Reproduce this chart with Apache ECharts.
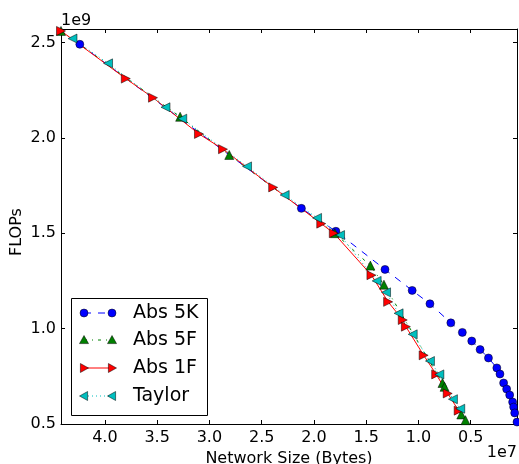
<!DOCTYPE html>
<html>
<head>
<meta charset="utf-8">
<script src="https://cdn.jsdelivr.net/npm/echarts@6/dist/echarts.min.js"></script>
<style>html,body{margin:0;padding:0;background:#fff}#c{width:519px;height:464px}</style>
</head>
<body>
<div id="c"></div>
<script>
// Network size in units of 1e7 bytes, FLOPs in units of 1e9
const xTicks = [0.5, 1.0, 1.5, 2.0, 2.5, 3.0, 3.5, 4.0];
const yTicks = [0.5, 1.0, 1.5, 2.0, 2.5];

const abs5kX = [4.24, 2.12, 1.79, 1.32, 1.06, 0.89, 0.69, 0.58, 0.49, 0.41, 0.33, 0.25, 0.22, 0.185, 0.156, 0.127, 0.099, 0.089, 0.079, 0.057];
const abs5kY = [2.49, 1.63, 1.51, 1.31, 1.20, 1.13, 1.03, 0.98, 0.935, 0.89, 0.846, 0.794, 0.762, 0.715, 0.683, 0.652, 0.615, 0.589, 0.558, 0.51];

const abs5fX = [4.42, 3.28, 2.81, 1.80, 1.46, 1.33, 0.77, 0.75, 0.59, 0.55];
const abs5fY = [2.56, 2.11, 1.91, 1.50, 1.33, 1.23, 0.715, 0.695, 0.55, 0.52];

const abs1fX = [4.42, 3.80, 3.54, 3.10, 2.87, 2.39, 1.93, 1.81, 1.45, 1.29, 1.15, 1.12, 0.95, 0.83, 0.72, 0.615];
const abs1fY = [2.56, 2.31, 2.21, 2.02, 1.94, 1.74, 1.55, 1.50, 1.28, 1.14, 1.045, 1.01, 0.86, 0.76, 0.66, 0.57];

const taylorX = [4.31, 3.97, 3.42, 3.26, 2.64, 2.28, 1.97, 1.75, 1.40, 1.31, 1.19, 1.055, 0.89, 0.80, 0.67, 0.60];
const taylorY = [2.52, 2.39, 2.16, 2.10, 1.85, 1.70, 1.58, 1.49, 1.25, 1.19, 1.08, 0.97, 0.83, 0.76, 0.63, 0.58];

const zip = (xs, ys) => xs.map((x, i) => [x, ys[i]]);
const FONT = 'DejaVu Sans';
const C_BLUE = '#0000ff', C_GREEN = '#008000', C_RED = '#ff0000', C_CYAN = '#00bfbf';

const chart = echarts.init(document.getElementById('c'), null, {renderer: 'canvas'});

function xAx(pos, showLabel) {
  return {
    type: 'value', position: pos, inverse: true, min: 0.057, max: 4.42,
    axisLine: {show: true, onZero: false, lineStyle: {color: '#000', width: 1}},
    axisTick: {show: true, inside: true, length: 4, customValues: xTicks, lineStyle: {color: '#000'}},
    axisLabel: {show: showLabel, customValues: xTicks, margin: 6, fontFamily: FONT, fontSize: 16, color: '#000',
      formatter: v => v.toFixed(1)},
    splitLine: {show: false},
    name: showLabel ? 'Network Size (Bytes)' : '', nameLocation: 'middle', nameGap: 27,
    nameTextStyle: {fontFamily: FONT, fontSize: 16, color: '#000'}
  };
}
function yAx(pos, showLabel) {
  return {
    type: 'value', position: pos, min: 0.5, max: 2.57,
    axisLine: {show: true, onZero: false, lineStyle: {color: '#000', width: 1}},
    axisTick: {show: true, inside: true, length: 4, customValues: yTicks, lineStyle: {color: '#000'}},
    axisLabel: {show: showLabel, customValues: yTicks, margin: 5, fontFamily: FONT, fontSize: 16, color: '#000',
      formatter: v => v.toFixed(1)},
    splitLine: {show: false},
    name: '', nameLocation: 'middle'
  };
}

function ser(name, xs, ys, color, symbol, rot, size, lineType) {
  return {
    name, type: 'line', xAxisIndex: 0, yAxisIndex: 0, data: zip(xs, ys),
    symbol, symbolRotate: rot, symbolSize: size, showAllSymbol: true, clip: true,
    lineStyle: {color, width: 1, type: lineType},
    itemStyle: {color, borderColor: '#000', borderWidth: 0.5},
    emphasis: {disabled: true}, animation: false
  };
}

// legend drawing helpers
const LX1 = 84, LX2 = 112, LT = 133;
const legRows = [313, 340, 368, 396];
function marker(kind, x, y, color) {
  const r = 4.5;
  if (kind === 'circle') return {type: 'circle', shape: {cx: x, cy: y, r: 4}, style: {fill: color, stroke: '#000', lineWidth: 0.5}};
  let pts;
  if (kind === 'up') pts = [[x, y - r], [x + r, y + r * 0.8], [x - r, y + r * 0.8]];
  if (kind === 'right') pts = [[x + r, y], [x - r * 0.8, y - r], [x - r * 0.8, y + r]];
  if (kind === 'left') pts = [[x - r, y], [x + r * 0.8, y - r], [x + r * 0.8, y + r]];
  return {type: 'polygon', shape: {points: pts}, style: {fill: color, stroke: '#000', lineWidth: 0.5}};
}
const legItems = [
  {label: 'Abs 5K', color: C_BLUE, kind: 'circle', dash: [7, 7]},
  {label: 'Abs 5F', color: C_GREEN, kind: 'up', dash: [3, 5, 1, 5]},
  {label: 'Abs 1F', color: C_RED, kind: 'right', dash: null},
  {label: 'Taylor', color: C_CYAN, kind: 'left', dash: [1, 3]}
];
const graphics = [
  {type: 'rect', shape: {x: 71.5, y: 298.5, width: 136, height: 117}, style: {fill: '#fff', stroke: '#000', lineWidth: 1}, z: 10}
];
legItems.forEach((it, i) => {
  const y = legRows[i];
  graphics.push({type: 'line', shape: {x1: LX1, y1: y, x2: LX2, y2: y}, style: {stroke: it.color, lineWidth: 1, lineDash: it.dash}, z: 11});
  const m1 = marker(it.kind, LX1, y, it.color); m1.z = 12; graphics.push(m1);
  const m2 = marker(it.kind, LX2, y, it.color); m2.z = 12; graphics.push(m2);
  graphics.push({type: 'text', x: LT, y: y, style: {text: it.label, font: '19px "DejaVu Sans"', fill: '#000', verticalAlign: 'middle', align: 'left'}, z: 12});
});
graphics.push({type: 'text', x: 61, y: 21, style: {text: '1e9', font: '16px "DejaVu Sans"', fill: '#000', verticalAlign: 'middle', align: 'left'}});
graphics.push({type: 'text', x: 517, y: 453, style: {text: '1e7', font: '16px "DejaVu Sans"', fill: '#000', verticalAlign: 'middle', align: 'right'}});
graphics.push({type: 'text', x: 17, y: 232, rotation: Math.PI / 2, style: {text: 'FLOPs', font: '16px "DejaVu Sans"', fill: '#000', verticalAlign: 'middle', align: 'center'}});

chart.setOption({
  animation: false,
  backgroundColor: '#fff',
  grid: {left: 61, right: 2, top: 29, bottom: 40, containLabel: false, outerBoundsMode: 'none'},
  xAxis: [xAx('bottom', true), xAx('top', false)],
  yAxis: [yAx('left', true), yAx('right', false)],
  series: [
    ser('Abs 5K', abs5kX, abs5kY, C_BLUE, 'circle', 0, 8, [7, 7]),
    ser('Abs 5F', abs5fX, abs5fY, C_GREEN, 'triangle', 0, 9, [3, 5, 1, 5]),
    ser('Abs 1F', abs1fX, abs1fY, C_RED, 'triangle', -90, 9, 'solid'),
    ser('Taylor', taylorX, taylorY, C_CYAN, 'triangle', 90, 9, [1, 3])
  ],
  graphic: graphics
});
</script>
</body>
</html>
